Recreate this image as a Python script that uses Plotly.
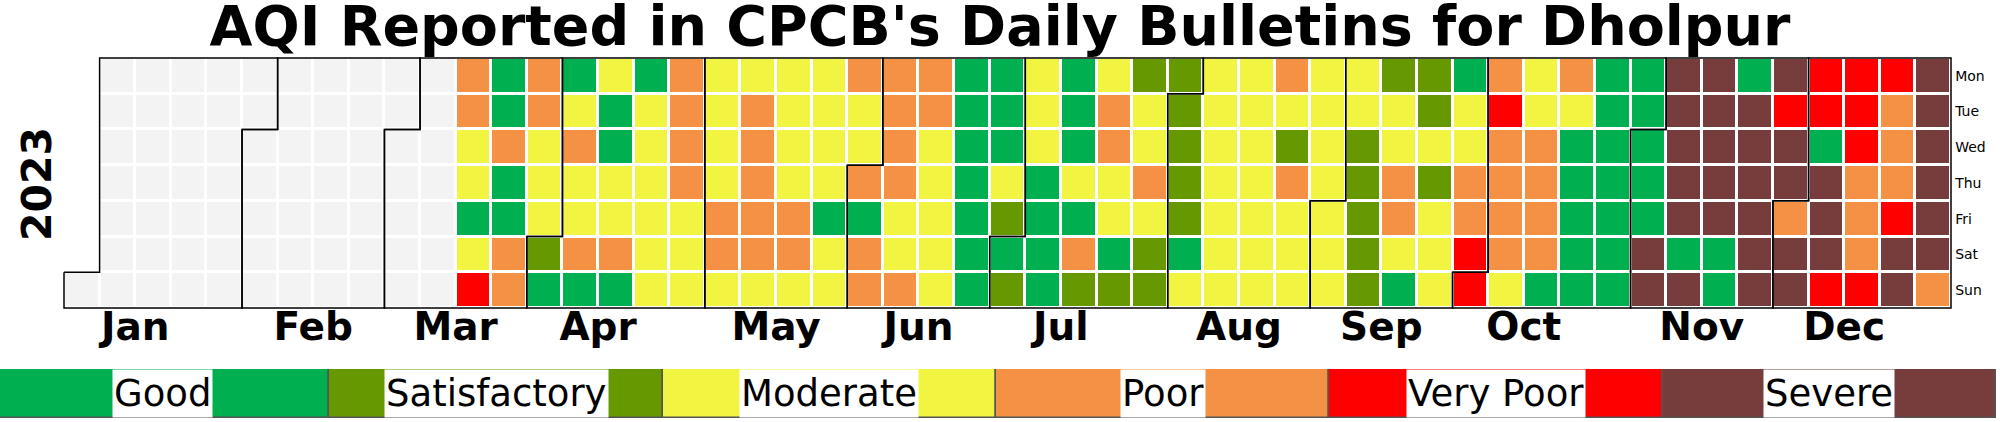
import datetime as dt
import numpy as np
import plotly.graph_objects as go

YEAR = 2023
categories = ["Good", "Satisfactory", "Moderate", "Poor", "Very Poor", "Severe"]
cat_codes = ["G", "S", "M", "P", "V", "X"]
cat_colors = ["#00b050", "#669900", "#f2f442", "#f49144", "#ff0000", "#773c3c"]
missing_color = "#f3f3f3"
day_names = ["Mon", "Tue", "Wed", "Thu", "Fri", "Sat", "Sun"]
month_names = ["Jan", "Feb", "Mar", "Apr", "May", "Jun",
               "Jul", "Aug", "Sep", "Oct", "Nov", "Dec"]

# daily AQI category, one letter per day (G,S,M,P,V,X), bulletins start 13 Mar
first_reported = dt.date(2023, 3, 13)
mar = "PPMMGMV" "GGPGGPP" "PPMMM"
apr = "SG" "GMPMMPG" "MGGMMPG" "GMMMMMM" "PPPPMMM"
may = "MMMMPPM" "MPPPPPM" "MMMMPPM" "MMMMGMM" "PMM"
jun = "PGPP" "PPPPMMP" "PPMMMMM" "GGGGGGG" "GGGMS"
jul = "GS" "MMMGGGG" "GGGMGPS" "MPPMMGS" "SMMPMSS" "S"
aug = "SSSSGM" "MMMMMMM" "MMMMMMM" "PMSPMMM" "MMMM"
sep = "MMM" "MMSSSSS" "SMMPPMG" "SSMSMMM" "GMMPPV"
oct_ = "V" "PVPPPPM" "MMPPPPG" "PMGGGGG" "GGGGGGG" "GG"
nov = "GGGXX" "XXXXXGX" "XXXXXGG" "GXXXXXX" "XVXX"
dec = "PXX" "VVGXXXV" "VVVPPPV" "VPPPVXX" "XXXXXXP"

daily = mar + apr + may + jun + jul + aug + sep + oct_ + nov + dec
values = {}
for i, ch in enumerate(daily):
    values[first_reported + dt.timedelta(days=i)] = cat_codes.index(ch)

# calendar grid: rows Mon..Sun, columns = weeks
jan1 = dt.date(YEAR, 1, 1)
offset = jan1.weekday()
n_days = (dt.date(YEAR + 1, 1, 1) - jan1).days
n_weeks = (n_days - 1 + offset) // 7 + 1

z = np.full((7, n_weeks), np.nan)
hover = np.full((7, n_weeks), "", dtype=object)
for d in range(n_days):
    day = jan1 + dt.timedelta(days=d)
    c, r = (d + offset) // 7, day.weekday()
    v = values.get(day, -1)
    z[r, c] = v
    hover[r, c] = day.isoformat() + ": " + (categories[v] if v >= 0 else "no data")

def cell(day):
    d = (day - jan1).days
    return (d + offset) // 7, day.weekday()

# month outlines and tick positions
ox, oy, month_ticks = [], [], []
for m in range(1, 13):
    start = dt.date(YEAR, m, 1)
    end = (dt.date(YEAR + (m == 12), m % 12 + 1, 1) - dt.timedelta(days=1))
    c1, r1 = cell(start)
    c2, r2 = cell(end)
    pts = [(c1, r1), (c1 + 1, r1), (c1 + 1, 0), (c2 + 1, 0), (c2 + 1, r2 + 1),
           (c2, r2 + 1), (c2, 7), (c1, 7), (c1, r1)]
    ox += [p[0] - 0.5 for p in pts] + [None]
    oy += [p[1] - 0.5 for p in pts] + [None]
    month_ticks.append(c1 + 1.5)

# discrete colour scale: -1 = no data, 0..5 = categories
all_colors = [missing_color] + cat_colors
scale = []
for i, col in enumerate(all_colors):
    scale += [[i / len(all_colors), col], [(i + 1) / len(all_colors), col]]

fig = go.Figure()
fig.add_trace(go.Heatmap(
    z=z, x=list(range(n_weeks)), y=list(range(7)),
    text=hover, hovertemplate="%{text}<extra></extra>",
    colorscale=scale, zmin=-1.5, zmax=5.5, showscale=False,
    xgap=3, ygap=3, hoverongaps=False,
))
fig.add_trace(go.Scatter(
    x=ox, y=oy, mode="lines", line=dict(color="black", width=1.5),
    hoverinfo="skip", showlegend=False,
))

# legend strip
fig.add_trace(go.Bar(
    x=list(range(len(categories))), y=[1] * len(categories), width=1,
    marker=dict(color=cat_colors, line=dict(color="#555555", width=1.5)),
    xaxis="x2", yaxis="y2", hovertext=categories, hoverinfo="text",
    showlegend=False,
))

W, H = 2000, 422
left, right, top, bottom = 64, 1951, 58, 308   # pixel box of the cells
pad = 0.06
colw = (right - left) / n_weeks
rowh = (bottom - top) / 7
xdom = [(left - pad * colw) / W, (right + pad * colw) / W]
ydom = [1 - (bottom + pad * rowh) / H, 1 - (top - pad * rowh) / H]

annotations = [dict(
    text="2023", x=37 / W, y=1 - 184 / H, xref="paper", yref="paper",
    xanchor="center", yanchor="middle",
    textangle=-90, showarrow=False, font=dict(size=41, weight="bold"),
)]
for i, cat in enumerate(categories):
    annotations.append(dict(
        text=cat, x=i, y=0.5, xref="x2", yref="y2", showarrow=False,
        bgcolor="white", height=45, borderpad=1, font=dict(size=37),
    ))

fig.update_layout(
    width=W, height=H,
    margin=dict(l=0, r=0, t=0, b=0),
    paper_bgcolor="white", plot_bgcolor="white",
    font=dict(family="DejaVu Sans", color="black"),
    title=dict(text="AQI Reported in CPCB's Daily Bulletins for Dholpur",
               x=0.5, xanchor="center", y=1 - 26 / H, yanchor="middle",
               font=dict(size=55.5, weight="bold")),
    xaxis=dict(domain=xdom, range=[-0.5 - pad, n_weeks - 0.5 + pad],
               tickvals=month_ticks, ticktext=month_names, ticks="",
               tickfont=dict(size=39, weight="bold"), ticklabelstandoff=-10,
               showgrid=False, zeroline=False, showline=False),
    yaxis=dict(domain=ydom, range=[6.5 + pad, -0.5 - pad],
               tickvals=list(range(7)), ticktext=day_names, side="right",
               ticks="", tickfont=dict(size=14), ticklabelstandoff=1,
               showgrid=False, zeroline=False, showline=False),
    xaxis2=dict(domain=[0, 1], anchor="y2",
                range=[-0.488, len(categories) - 0.488], visible=False),
    yaxis2=dict(domain=[1 - 418 / H, 1 - 369 / H], anchor="x2", range=[0, 1],
                visible=False),
    bargap=0,
    annotations=annotations,
    showlegend=False,
)

# drop the browser's default 8px body margin so the figure fills the window
fig.write_html("out.html", config={"displayModeBar": False},
               post_script="document.body.style.margin='0';")
